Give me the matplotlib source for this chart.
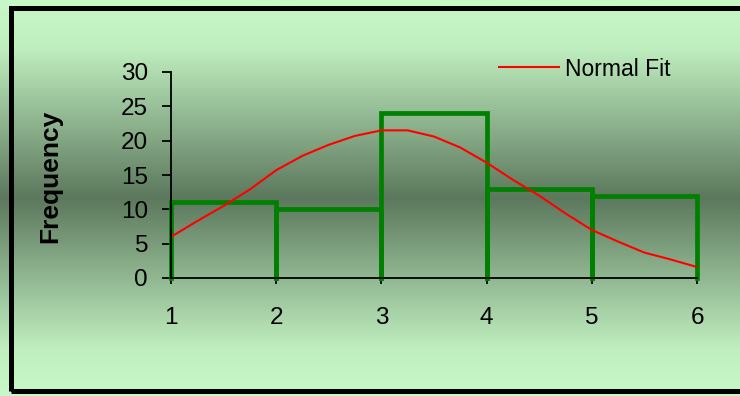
import numpy as np
import matplotlib.pyplot as plt
from matplotlib.patches import Rectangle
from matplotlib.colors import LinearSegmentedColormap

plt.rcParams['font.family'] = ['Liberation Sans', 'DejaVu Sans']

# histogram bins and counts
bin_edges = [1, 2, 3, 4, 5, 6]
counts = [11, 10, 24, 13, 12]

# normal fit curve
fit_x = [1.0, 1.25, 1.5, 1.75, 2.0, 2.25, 2.5, 2.75, 3.0, 3.25, 3.5,
         3.75, 4.0, 4.25, 4.5, 4.75, 5.0, 5.25, 5.5, 5.75, 6.0]
fit_y = [6.0, 8.3, 10.5, 12.9, 15.7, 17.8, 19.4, 20.7, 21.5, 21.5, 20.6,
         19.0, 16.8, 14.3, 12.0, 9.4, 7.0, 5.3, 3.7, 2.7, 1.6]

y_ticks = [0, 5, 10, 15, 20, 25, 30]
x_ticks = [1, 2, 3, 4, 5, 6]

W, H = 740, 396
fig = plt.figure(figsize=(W / 100, H / 100), dpi=100)

# gradient background: light at top and bottom, dark band in the middle
bg = fig.add_axes([0, 0, 1, 1], zorder=-1)
cmap = LinearSegmentedColormap.from_list(
    'bg', [(0.0, '#c8f8c8'), (0.12, '#bfeebf'), (0.5, '#5c785d'),
           (0.88, '#bfeebf'), (1.0, '#c8f8c8')])
grad = np.linspace(0, 1, 400).reshape(-1, 1)
bg.imshow(grad, aspect='auto', cmap=cmap, extent=[0, 1, 0, 1], origin='upper')
bg.set_axis_off()

# black frame around the chart
fig.patches.append(Rectangle((10.5 / W, 1 - 390.5 / H), 740 / W, 383 / H,
                             transform=fig.transFigure, fill=False,
                             edgecolor='black', linewidth=3.6))

ax = fig.add_axes([171 / W, 1 - 278 / H, 526 / W, 206 / H])
ax.patch.set_alpha(0)

green = '#008000'
for i in range(len(counts)):
    x0, x1, h = bin_edges[i], bin_edges[i + 1], counts[i]
    ax.plot([x0, x0, x1, x1], [0, h, h, 0], color=green, linewidth=3.4,
            solid_joinstyle='miter', clip_on=False, zorder=2)

ax.plot(fit_x, fit_y, color='#ff0000', linewidth=1.5, zorder=3,
        label='Normal Fit')

ax.set_xlim(1, 6)
ax.set_ylim(0, 30)
ax.set_xticks(x_ticks)
ax.set_yticks(y_ticks)
for s in ['top', 'right']:
    ax.spines[s].set_visible(False)
for s in ['left', 'bottom']:
    ax.spines[s].set_linewidth(1.3)
    ax.spines[s].set_zorder(4)
ax.tick_params(axis='y', length=6.5, width=1.3, pad=10, labelsize=17.5)
ax.tick_params(axis='x', length=4, width=1.3, pad=17, labelsize=17.5)

fig.text(50 / W, 1 - 176 / H, 'Frequency', rotation=90, fontsize=19,
         fontweight='bold', ha='center', va='center')

fig.legend(loc='center left', bbox_to_anchor=(499 / W, 1 - 69 / H),
           frameon=False, fontsize=16.5, handlelength=2.6, handletextpad=0.3,
           borderpad=0, borderaxespad=0)

fig.savefig('out.png', dpi=100)
